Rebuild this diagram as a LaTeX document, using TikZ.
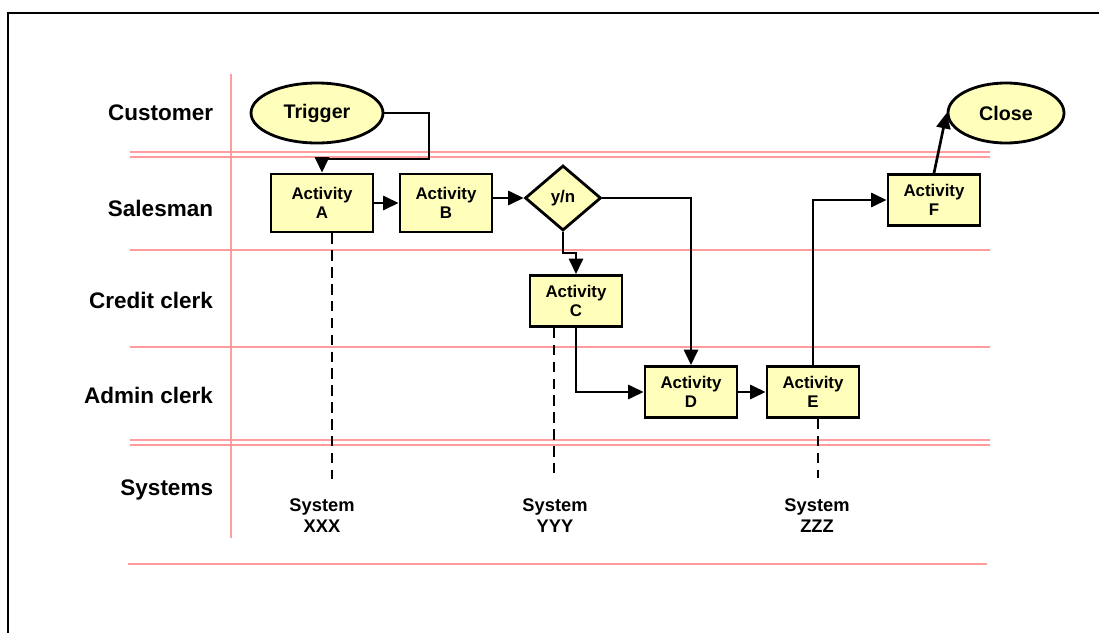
\documentclass[tikz,border=0pt]{standalone}
\usepackage{fontspec}
\setmainfont{Liberation Sans}
\usetikzlibrary{arrows.meta,calc,positioning,shapes.geometric}
\definecolor{Lane}{HTML}{FF9C9C}
\definecolor{Pale}{HTML}{FFFFBB}

\begin{document}
\begin{tikzpicture}[x=0.025cm,y=-0.025cm,font=\bfseries,>={Triangle[length=11pt,width=10pt]},
    grid/.style={Lane,line width=2pt},
    who/.style={anchor=east,font=\bfseries\fontsize{16}{19}\selectfont},
    act/.style={draw,line width=2pt,fill=Pale,align=center,inner sep=0pt,minimum width=92*0.025cm,minimum height=51*0.025cm,font=\bfseries\fontsize{12}{14}\selectfont},
    term/.style={draw,line width=2pt,fill=Pale,ellipse,inner sep=0pt,minimum height=60*0.025cm,font=\bfseries\fontsize{14}{16}\selectfont},
    flow/.style={->,line width=1.9pt},
    link/.style={line width=1.9pt,dash pattern=on 7.5pt off 4.5pt},
    sys/.style={align=center,font=\bfseries\fontsize{13}{15}\selectfont}]
    \useasboundingbox (0,0) rectangle (1099,632);
    \clip (0,0) rectangle (1099,632);
    \draw[line width=2pt] (8,13) rectangle (1130,660);
    % swimlanes
    \foreach \y in {152,157,250,347,440,445}{\draw[grid] (130,\y) -- (990,\y);}
    \draw[grid] (128,564) -- (987,564);
    \draw[grid] (231,74) -- (231,538);
    \node[who] (cust) at (218,113) {Customer};
    \node[who] (sales) at (218,208) {Salesman};
    \node[who] (credit) at (218,300) {Credit clerk};
    \node[who] (admin) at (218,395) {Admin clerk};
    \node[who] (systems) at (218,490) {Systems};
    % steps
    \node[term,minimum width=132*0.025cm] (trig) at (317,113) {Trigger};
    \node[term,minimum width=116*0.025cm] (cls) at (1006,113) {Close};
    \node[act,minimum width=102*0.025cm,minimum height=58*0.025cm] (A) at (322,203) {Activity\\A};
    \node[act,minimum height=58*0.025cm] (B) at (446,203) {Activity\\B};
    \node[draw,line width=2pt,fill=Pale,diamond,inner sep=0pt,minimum width=76*0.025cm,minimum height=65*0.025cm,font=\bfseries\fontsize{12}{14}\selectfont] (yn) at (563,198) {y/n};
    \node[act] (C) at (576,301) {Activity\\C};
    \node[act] (D) at (691,392) {Activity\\D};
    \node[act] (E) at (813,392) {Activity\\E};
    \node[act] (F) at (934,200) {Activity\\F};
    \draw[flow] (trig.east) -| (429,159) -| (A.north);
    \draw[flow] (A) -- (B);
    \draw[flow] (B.east |- yn.west) -- (yn.west);
    \draw[flow] (yn.east) -| (D.north);
    \draw[flow] (yn.south) -- ++(0,21) -| (C.north);
    \draw[flow] (C.south) |- (D.west);
    \draw[flow] (D) -- (E);
    \draw[flow] (E.north) |- (F.west);
    \draw[flow] (F.north) -- (cls.west);
    % systems
    \node[sys] (sysX) at (322,516) {System\\XXX};
    \node[sys] (sysY) at (555,516) {System\\YYY};
    \node[sys] (sysZ) at (817,516) {System\\ZZZ};
    \draw[link] ($(A.south)+(10,0)$) -- ($(A.south)+(10,246)$);
    \draw[link] ($(C.south)+(-22,0)$) -- ($(C.south)+(-22,151)$);
    \draw[link] ($(E.south)+(5,0)$) -- ($(E.south)+(5,59)$);
  \end{tikzpicture}
\end{document}
